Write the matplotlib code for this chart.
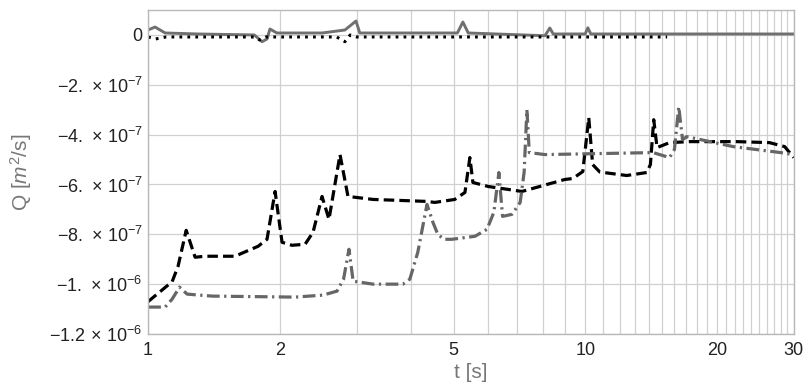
import numpy as np
import matplotlib
matplotlib.use("Agg")
import matplotlib.pyplot as plt

plt.rcParams['font.family'] = ['Liberation Sans', 'DejaVu Sans']
plt.rcParams['mathtext.fontset'] = 'custom'
plt.rcParams['mathtext.rm'] = 'Liberation Sans'
plt.rcParams['mathtext.it'] = 'Liberation Sans:italic'

# 數據 (Q 以 1e-7 m^2/s 為單位)
t_solid = [1.00, 1.037, 1.094, 1.3, 1.75, 1.823, 1.871, 1.90, 1.97, 2.5, 2.82, 2.99, 3.05,
           5.1, 5.25, 5.4, 8.09, 8.30, 8.45, 10.0, 10.14, 10.3, 30.0]
q_solid = [0.2, 0.32, 0.08, 0.04, 0.0, -0.27, -0.16, 0.24, 0.08, 0.08, 0.2, 0.56, 0.08,
           0.08, 0.52, 0.08, -0.03, 0.28, 0.04, 0.04, 0.29, 0.04, 0.04]

t_dotted = [1.00, 1.04, 1.1, 1.75, 1.80, 1.86, 2.70, 2.75, 2.82, 2.90, 3.0, 15.4]
q_dotted = [-0.08, -0.16, -0.08, -0.08, -0.2, -0.08, -0.08, -0.16, -0.27, 0.0, -0.08, -0.08]

t_dashed = [1.00, 1.135, 1.171, 1.222, 1.281, 1.35, 1.58, 1.785, 1.871, 1.952, 2.025, 2.134,
            2.286, 2.384, 2.50, 2.593, 2.748, 2.866, 3.27, 4.345, 4.53, 5.03, 5.307, 5.447,
            5.535, 6.0, 7.165, 8.98, 9.37, 9.875, 10.19, 10.4, 10.8, 12.45, 13.83, 14.1,
            14.35, 14.6, 15.6, 17.35, 22.2, 26.4, 28.6, 30.0]
q_dashed = [-10.7, -9.9, -9.28, -7.84, -8.92, -8.88, -8.88, -8.48, -8.2, -6.28, -8.32, -8.44,
            -8.4, -7.92, -6.48, -7.4, -4.8, -6.48, -6.6, -6.68, -6.72, -6.6, -6.32, -4.92,
            -5.92, -6.08, -6.28, -5.8, -5.76, -5.48, -3.32, -5.2, -5.5, -5.64, -5.52, -5.2,
            -3.4, -4.52, -4.32, -4.28, -4.28, -4.32, -4.48, -4.92]

t_dashdot = [1.00, 1.094, 1.135, 1.18, 1.228, 1.4, 2.168, 2.513, 2.705, 2.80, 2.881, 2.945,
             3.27, 3.828, 3.97, 4.14, 4.345, 4.484, 4.6, 4.75, 4.955, 5.594, 5.96, 6.18,
             6.347, 6.47, 6.797, 7.1, 7.25, 7.355, 7.45, 8.09, 14.3, 15.6, 16.0, 16.37,
             16.7, 17.08, 21.8, 28.0, 30.0]
q_dashdot = [-10.92, -10.92, -10.6, -10.12, -10.4, -10.48, -10.52, -10.44, -10.28, -9.8, -8.6, -9.88,
             -10.0, -10.0, -9.8, -8.72, -6.8, -7.52, -8.0, -8.2, -8.2, -8.08, -7.8, -7.12,
             -5.52, -7.28, -7.2, -6.72, -5.5, -3.0, -4.72, -4.8, -4.72, -4.92, -4.6, -2.88,
             -4.2, -4.08, -4.48, -4.72, -4.8]

scale = 1e-7
xticks = [1, 2, 5, 10, 20, 30]
xticklabels = ["1", "2", "5", "10", "20", "30"]
yticks = [0, -2e-7, -4e-7, -6e-7, -8e-7, -1e-6, -1.2e-6]
yticklabels = ["0", r"$-2.\,\times\,10^{-7}$", r"$-4.\,\times\,10^{-7}$", r"$-6.\,\times\,10^{-7}$",
               r"$-8.\,\times\,10^{-7}$", r"$-1.\,\times\,10^{-6}$", r"$-1.2\,\times\,10^{-6}$"]

fig = plt.figure(figsize=(8.05, 3.87), dpi=100)
ax = fig.add_axes([0.184, 0.137, 0.802, 0.837])

ax.plot(t_solid, np.array(q_solid) * scale, color="#707070", lw=2.1, solid_joinstyle="round")
ax.plot(t_dotted, np.array(q_dotted) * scale, color="black", lw=2.2,
        linestyle=(0, (0.9, 1.7)), dash_capstyle="butt")
ax.plot(t_dashed, np.array(q_dashed) * scale, color="black", lw=2.3,
        linestyle=(0, (3.3, 1.6)), dash_capstyle="butt")
ax.plot(t_dashdot, np.array(q_dashdot) * scale, color="#666666", lw=2.3,
        linestyle=(0, (4.0, 1.4, 0.7, 1.4)), dash_capstyle="butt")

ax.set_xscale("log")
ax.set_xlim(1, 30)
ax.set_ylim(-1.2e-6, 1e-7)

ax.set_xticks(xticks)
ax.set_xticklabels(xticklabels)
ax.set_xticks(range(1, 31), minor=True)
ax.xaxis.set_minor_formatter(matplotlib.ticker.NullFormatter())
ax.set_yticks(yticks)
ax.set_yticklabels(yticklabels)
ax.tick_params(which="both", length=0, labelsize=13, colors="#222222")
ax.tick_params(axis="x", pad=6)
ax.tick_params(axis="y", pad=4)

ax.grid(True, which="minor", axis="x", color="#d0d0d0", lw=0.9)
ax.grid(True, which="major", axis="x", color="#d0d0d0", lw=0.9)
ax.grid(True, which="major", axis="y", color="#d0d0d0", lw=0.9)
ax.set_axisbelow(True)
for s in ax.spines.values():
    s.set_color("#b8b8b8")
    s.set_linewidth(1.0)

ax.set_xlabel("t [s]", fontsize=15, color="#777777", labelpad=3)
ax.set_ylabel(r"Q [$m^2$/s]", fontsize=15, color="#777777", labelpad=11)

fig.savefig("out.png", dpi=100)
